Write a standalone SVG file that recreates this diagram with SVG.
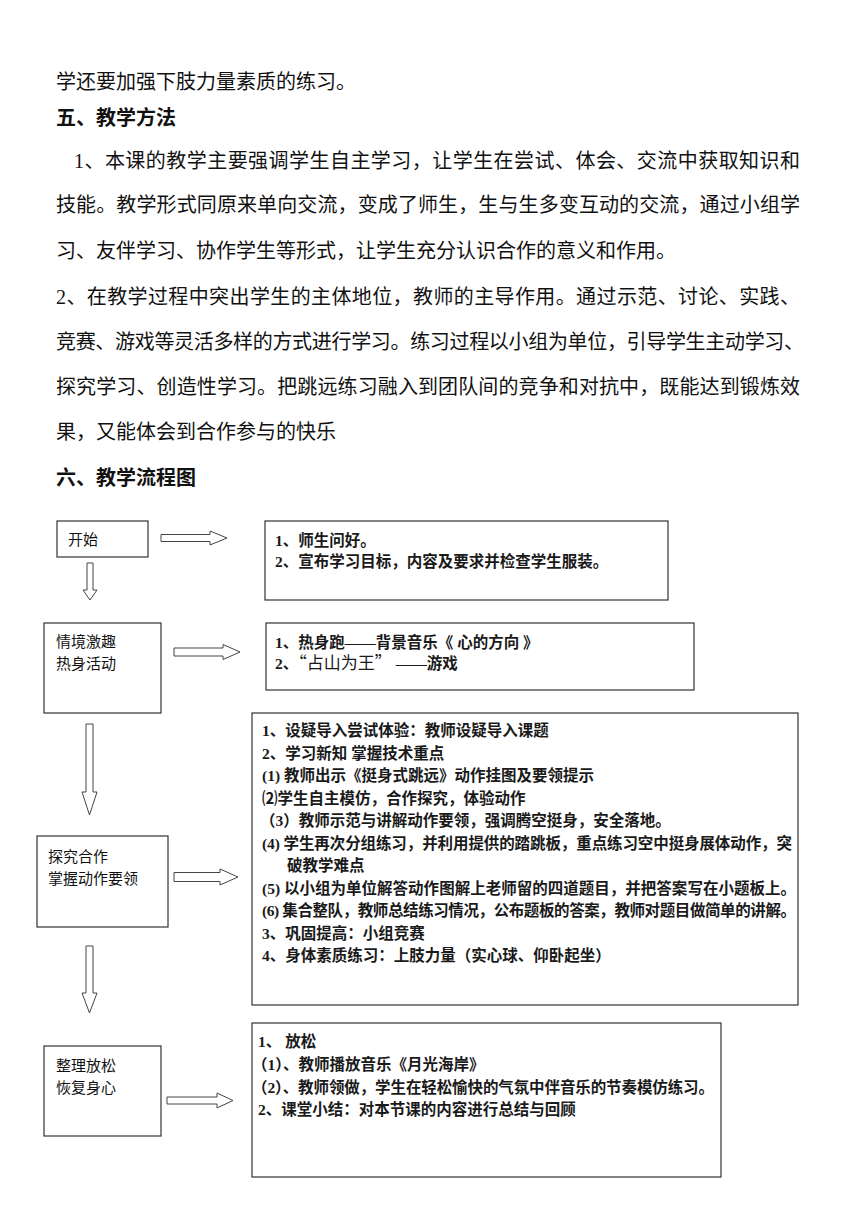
<svg xmlns="http://www.w3.org/2000/svg" width="860" height="1216" viewBox="0 0 860 1216">
<style>
.p{font-family:"Liberation Serif","Noto Sans CJK SC",serif;font-size:20px;fill:#111}
.h{font-family:"Noto Sans CJK SC",sans-serif;font-size:20px;font-weight:bold;fill:#111}
.box{fill:#fff;stroke:#333;stroke-width:1.2}
.arr{fill:#fff;stroke:#444;stroke-width:1}
.l{font-family:"Noto Sans CJK SC",sans-serif;font-size:15px;fill:#111}
.t{font-family:"Liberation Serif","Noto Sans CJK SC",serif;font-size:15.5px;font-weight:bold;fill:#1a1a1a}
</style>
<rect width="860" height="1216" fill="#fff"/>
<g id="text-body">
<text class="p" x="74" y="168" textLength="726" lengthAdjust="spacing">1、本课的教学主要强调学生自主学习，让学生在尝试、体会、交流中获取知识和</text>
<text class="p" x="56" y="89">学还要加强下肢力量素质的练习。</text>
<text class="h" x="56" y="125">五、教学方法</text>
<text class="p" x="56" y="212" textLength="744" lengthAdjust="spacing">技能。教学形式同原来单向交流，变成了师生，生与生多变互动的交流，通过小组学</text>
<text class="p" x="56" y="258">习、友伴学习、协作学生等形式，让学生充分认识合作的意义和作用。</text>
<text class="p" x="56" y="304" textLength="744" lengthAdjust="spacing">2、在教学过程中突出学生的主体地位，教师的主导作用。通过示范、讨论、实践、</text>
<text class="p" x="56" y="349" textLength="748" lengthAdjust="spacing">竞赛、游戏等灵活多样的方式进行学习。练习过程以小组为单位，引导学生主动学习、</text>
<text class="p" x="56" y="394" textLength="744" lengthAdjust="spacing">探究学习、创造性学习。把跳远练习融入到团队间的竞争和对抗中，既能达到锻炼效</text>
<text class="p" x="56" y="439">果，又能体会到合作参与的快乐</text>
<text class="h" x="56" y="485">六、教学流程图</text>
</g>
<g id="connectors">
<path class="arr" d="M161,534.5H210V531L227,538L210,545V541.5H161Z"/>
<path class="arr" d="M87,563H93V590H97L90,600L83,590H87Z"/>
<path class="arr" d="M174,648H223V644.5L240,652L223,659.5V656H174Z"/>
<path class="arr" d="M86,724H93V792H97L89.5,815L82,792H86Z"/>
<path class="arr" d="M174,872.5H220V869L238,877L220,885V881.5H174Z"/>
<path class="arr" d="M86,946H93V993H97L89.5,1013L82,993H86Z"/>
<path class="arr" d="M167,1097H217V1093L233,1100.5L217,1108V1104H167Z"/>
</g>
<g id="node-start">
<rect class="box" x="57" y="521" width="91" height="36"/>
<text class="l" x="68" y="545">开始</text>
</g>
<g id="node-start-detail">
<rect class="box" x="265" y="521" width="403" height="79"/>
<text class="t" x="275" y="546">1、师生问好。</text>
<text class="t" x="275" y="567">2、宣布学习目标，内容及要求并检查学生服装。</text>
</g>
<g id="node-warmup">
<rect class="box" x="44" y="623" width="117" height="90"/>
<text class="l" x="56" y="647">情境激趣</text>
<text class="l" x="56" y="669">热身活动</text>
</g>
<g id="node-warmup-detail">
<rect class="box" x="266" y="623" width="428" height="67"/>
<text class="t" x="275" y="648">1、热身跑——背景音乐《 心的方向 》</text>
<text class="t" x="275" y="669">2、<tspan font-family="Noto Sans CJK SC, sans-serif" font-size="17" font-weight="normal">“占山为王”</tspan> ——游戏</text>
</g>
<g id="node-explore">
<rect class="box" x="37" y="836" width="131" height="91"/>
<text class="l" x="48" y="862">探究合作</text>
<text class="l" x="48" y="884">掌握动作要领</text>
</g>
<g id="node-explore-detail">
<rect class="box" x="252" y="713" width="546" height="292"/>
<text class="t" x="262" y="736">1、设疑导入尝试体验：教师设疑导入课题</text>
<text class="t" x="262" y="758.5">2、学习新知 掌握技术重点</text>
<text class="t" x="262" y="781">(1) 教师出示《挺身式跳远》动作挂图及要领提示</text>
<text class="t" x="262" y="803.5">⑵学生自主模仿，合作探究，体验动作</text>
<text class="t" x="260" y="826">（3）教师示范与讲解动作要领，强调腾空挺身，安全落地。</text>
<text class="t" x="262" y="848.5" textLength="530" lengthAdjust="spacing">(4) 学生再次分组练习，并利用提供的踏跳板，重点练习空中挺身展体动作，突</text>
<text class="t" x="287" y="871">破教学难点</text>
<text class="t" x="262" y="893.5" textLength="534" lengthAdjust="spacing">(5) 以小组为单位解答动作图解上老师留的四道题目，并把答案写在小题板上。</text>
<text class="t" x="262" y="916" textLength="534" lengthAdjust="spacing">(6) 集合整队，教师总结练习情况，公布题板的答案，教师对题目做简单的讲解。</text>
<text class="t" x="262" y="938.5">3、巩固提高：小组竞赛</text>
<text class="t" x="262" y="961">4、身体素质练习：上肢力量（实心球、仰卧起坐）</text>
</g>
<g id="node-relax">
<rect class="box" x="44" y="1046" width="117" height="90"/>
<text class="l" x="56" y="1071">整理放松</text>
<text class="l" x="56" y="1093">恢复身心</text>
</g>
<g id="node-relax-detail">
<rect class="box" x="252" y="1023" width="469" height="154"/>
<text class="t" x="258" y="1047">1、 放松</text>
<text class="t" x="252" y="1070">（1）、教师播放音乐《月光海岸》</text>
<text class="t" x="252" y="1093" textLength="462" lengthAdjust="spacing">（2）、教师领做，学生在轻松愉快的气氛中伴音乐的节奏模仿练习。</text>
<text class="t" x="258" y="1115">2、课堂小结：对本节课的内容进行总结与回顾</text>
</g>
</svg>
